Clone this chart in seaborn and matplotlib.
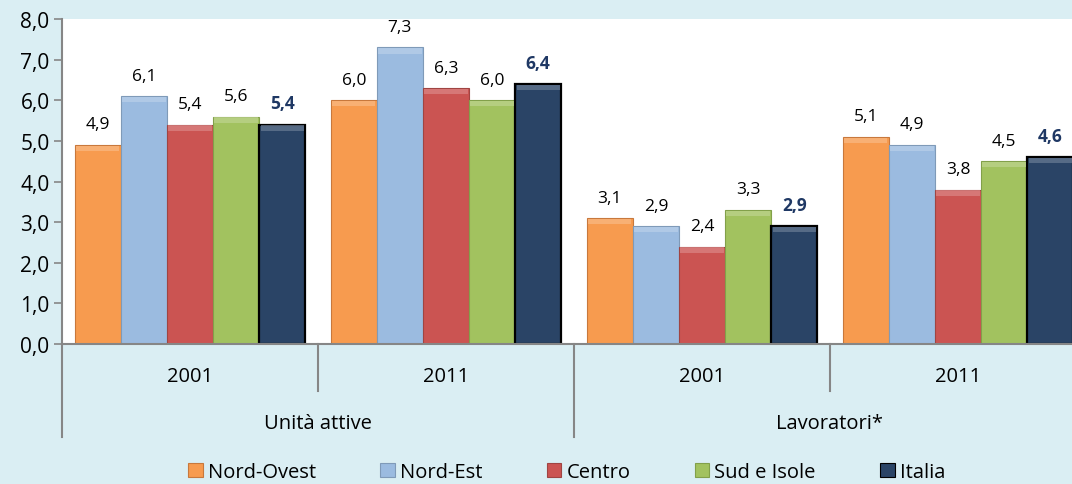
import pandas as pd
import numpy as np
import seaborn as sns
import matplotlib.pyplot as plt
from matplotlib.patches import Patch, Rectangle
from matplotlib.ticker import FuncFormatter
from matplotlib.colors import to_rgb

# dati
gruppi = ["Unità attive", "Unità attive", "Lavoratori*", "Lavoratori*"]
anni = ["2001", "2011", "2001", "2011"]
ripartizioni = ["Nord-Ovest", "Nord-Est", "Centro", "Sud e Isole", "Italia"]
nord_ovest = [4.9, 6.0, 3.1, 5.1]
nord_est = [6.1, 7.3, 2.9, 4.9]
centro = [5.4, 6.3, 2.4, 3.8]
sud_isole = [5.6, 6.0, 3.3, 4.5]
italia = [5.4, 6.4, 2.9, 4.6]

colori = ["#F79B4F", "#9BBBE0", "#CB5452", "#A2C25F", "#2A4466"]
bordi = ["#C8783C", "#7F9AB8", "#A04442", "#82A04A", "#000000"]
sfondo = "#DAEEF3"

valori = [nord_ovest, nord_est, centro, sud_isole, italia]
righe = []
for r, vals in zip(ripartizioni, valori):
    for i, v in enumerate(vals):
        righe.append({"pos": str(i), "ripartizione": r, "valore": v})
df = pd.DataFrame(righe)

plt.rcParams['font.family'] = ['Open Sans', 'DejaVu Sans']
fig = plt.figure(figsize=(10.72, 4.85), dpi=100, facecolor=sfondo)
ax = fig.add_axes([62 / 1072, 140 / 485, 1024 / 1072, 325 / 485])
ax.set_facecolor("white")

sns.barplot(data=df, x="pos", y="valore", hue="ripartizione", hue_order=ripartizioni,
            order=["0", "1", "2", "3"], palette=colori, saturation=1, width=0.9,
            legend=False, ax=ax)

def virgola(v, pos=None):
    return f"{v:.1f}".replace(".", ",")

# bordi, effetto smussato e etichette
for k, cont in enumerate(ax.containers):
    base = np.array(to_rgb(colori[k]))
    chiaro = base + (1 - base) * 0.3
    for bar, v in zip(cont, valori[k]):
        bar.set_edgecolor(bordi[k])
        bar.set_linewidth(1.6 if k == 4 else 0.8)
        x0, w, h = bar.get_x(), bar.get_width(), bar.get_height()
        ax.add_patch(Rectangle((x0 + w * 0.03, h - 0.15), w * 0.94, 0.13,
                               facecolor=chiaro, edgecolor="none", alpha=0.7, zorder=3))
        ax.annotate(virgola(v), (x0 + w / 2, h), xytext=(0, 9), textcoords="offset points",
                    ha="center", va="bottom", fontsize=12.5,
                    color="#1F3864" if k == 4 else "black",
                    fontweight="bold" if k == 4 else "normal")

ax.set_xlim(-0.5, 3.5)
ax.set_ylim(0, 8)
ax.set_yticks(np.arange(0, 9, 1))
ax.yaxis.set_major_formatter(FuncFormatter(virgola))
ax.tick_params(axis="y", length=6, width=1.2, color="#868686", labelsize=15, pad=3)
ax.set_xticks([])
ax.set_xlabel("")
ax.set_ylabel("")
for s in ["top", "right"]:
    ax.spines[s].set_visible(False)
for s in ["left", "bottom"]:
    ax.spines[s].set_color("#868686")
    ax.spines[s].set_linewidth(1.5)

# asse delle categorie a due livelli
tr = ax.get_xaxis_transform()
for i, a in enumerate(anni):
    ax.text(i, -0.098, a, transform=tr, ha="center", va="center", fontsize=14.5)
for i in [0, 1]:
    ax.text(2 * i + 0.5, -0.243, gruppi[2 * i], transform=tr, ha="center", va="center", fontsize=14.5)
for xs, fine in [(-0.5, -0.285), (0.5, -0.145), (1.5, -0.285), (2.5, -0.145), (3.5, -0.285)]:
    ax.plot([xs, xs], [0, fine], transform=tr, color="#868686", lw=1.5, clip_on=False)

maniglie = [Patch(facecolor=c, edgecolor=b, linewidth=0.8) for c, b in zip(colori, bordi)]
fig.legend(maniglie, ripartizioni, loc="center", bbox_to_anchor=(0.5285, 0.025), ncol=5,
           frameon=False, fontsize=14.5, handlelength=0.72, handleheight=0.72,
           handletextpad=0.25, columnspacing=3.2)

plt.savefig("out.png", dpi=100, facecolor=sfondo)
